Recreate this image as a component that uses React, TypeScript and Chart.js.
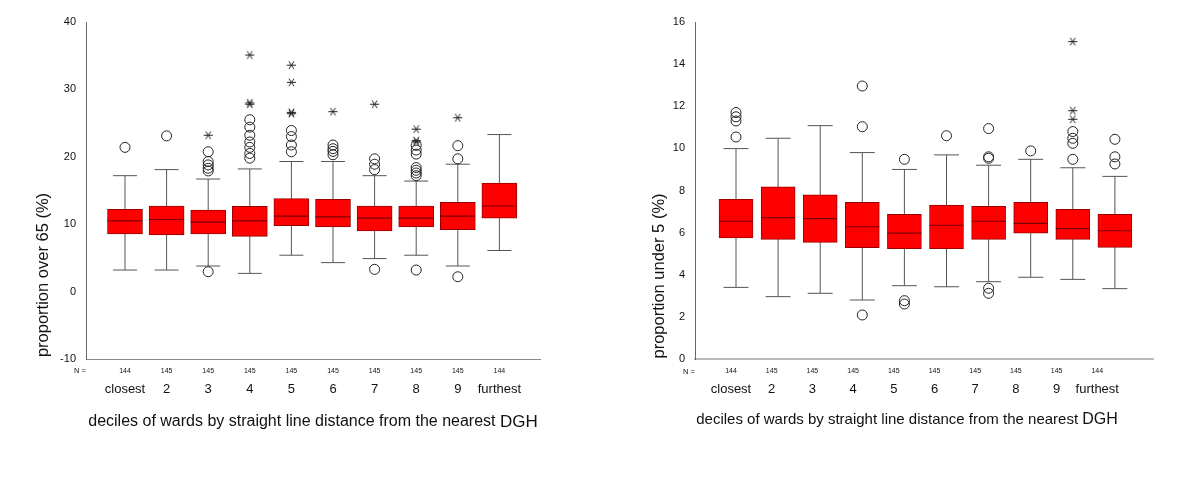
import React, { useEffect, useRef } from 'react';
import { Chart, registerables } from 'chart.js';

Chart.register(...registerables);

// ---------- data ----------
const categories = ['closest', '2', '3', '4', '5', '6', '7', '8', '9', 'furthest'];
const nCounts = [144, 145, 145, 145, 145, 145, 145, 145, 145, 144];

// proportion over 65 (%)
const over65Low = [3.2, 3.2, 3.8, 2.7, 5.4, 4.3, 4.9, 5.4, 3.8, 6.1];
const over65Q1 = [8.55, 8.4, 8.55, 8.2, 9.8, 9.6, 9.0, 9.6, 9.2, 10.9];
const over65Median = [10.5, 10.7, 10.3, 10.5, 11.2, 11.1, 10.9, 10.9, 11.2, 12.7];
const over65Q3 = [12.2, 12.7, 12.1, 12.65, 13.8, 13.7, 12.7, 12.7, 13.25, 16.1];
const over65High = [17.2, 18.1, 16.7, 18.2, 19.3, 19.3, 17.2, 16.4, 18.9, 23.3];
// [decile (1-10), value]
const over65Outliers: [number, number][] = [
  [1, 21.4],
  [2, 23.1],
  [3, 20.75], [3, 19.3], [3, 18.8], [3, 18.3], [3, 17.9], [3, 2.95],
  [4, 25.5], [4, 24.4], [4, 23.2], [4, 22.2], [4, 21.4], [4, 20.5], [4, 19.8],
  [5, 23.9], [5, 23.0], [5, 21.75], [5, 20.75],
  [6, 21.75], [6, 21.2], [6, 20.8], [6, 20.3],
  [7, 19.7], [7, 18.9], [7, 18.1], [7, 3.3],
  [8, 21.7], [8, 21.0], [8, 20.4], [8, 18.4], [8, 18.0], [8, 17.6], [8, 17.2], [8, 3.2],
  [9, 21.65], [9, 19.7], [9, 2.2],
];
const over65Extremes: [number, number][] = [
  [3, 23.2],
  [4, 35.1], [4, 28.0], [4, 27.8],
  [5, 33.6], [5, 31.05], [5, 26.6], [5, 26.4],
  [6, 26.7],
  [7, 27.8],
  [8, 24.1], [8, 22.4], [8, 22.2],
  [9, 25.8],
];
const over65Ticks = [-10, 0, 10, 20, 30, 40];

// proportion under 5 (%)
const under5Low = [3.4, 2.96, 3.12, 2.8, 3.48, 3.43, 3.67, 3.88, 3.78, 3.34];
const under5Q1 = [5.75, 5.68, 5.54, 5.29, 5.24, 5.24, 5.68, 5.98, 5.68, 5.3];
const under5Median = [6.54, 6.71, 6.66, 6.28, 5.98, 6.35, 6.54, 6.44, 6.19, 6.09];
const under5Q3 = [7.58, 8.18, 7.8, 7.44, 6.87, 7.31, 7.25, 7.44, 7.11, 6.87];
const under5High = [9.99, 10.48, 11.08, 9.8, 9.0, 9.69, 9.2, 9.48, 9.08, 8.67];
const under5Outliers: [number, number][] = [
  [1, 10.54], [1, 11.3], [1, 11.5], [1, 11.7],
  [4, 11.03], [4, 12.96], [4, 2.09],
  [5, 9.48], [5, 2.77], [5, 2.61],
  [6, 10.6],
  [7, 10.94], [7, 9.6], [7, 9.53], [7, 3.36], [7, 3.12],
  [8, 9.88],
  [9, 9.48], [9, 10.24], [9, 10.48], [9, 10.8],
  [10, 9.26], [10, 9.6], [10, 10.43],
];
const under5Extremes: [number, number][] = [
  [9, 15.07], [9, 11.79], [9, 11.38],
];
const under5Ticks = [0, 2, 4, 6, 8, 10, 12, 14, 16];

const xTitleMain = 'deciles of wards by straight line distance from the nearest ';
const xTitleEnd = 'DGH';
const nLabel = 'N =';

const FONT = '"Liberation Sans", Arial, Helvetica, sans-serif';

function makeStar(): HTMLCanvasElement {
  const c = document.createElement('canvas');
  c.width = 11;
  c.height = 11;
  const ctx = c.getContext('2d')!;
  ctx.strokeStyle = '#222';
  ctx.lineWidth = 1;
  const cx = 5.5, cy = 5.5, r = 4.6;
  for (const a of [0, Math.PI / 3.2, Math.PI - Math.PI / 3.2]) {
    ctx.beginPath();
    ctx.moveTo(cx - r * Math.cos(a), cy - r * Math.sin(a));
    ctx.lineTo(cx + r * Math.cos(a), cy + r * Math.sin(a));
    ctx.stroke();
  }
  return c;
}

interface Spec {
  width: number;
  low: number[]; q1: number[]; med: number[]; q3: number[]; high: number[];
  outliers: [number, number][];
  extremes: [number, number][];
  yTicks: number[];
  xMin: number; xMax: number;
  labelMin: number; labelMax: number;
  boxWidth: number; capWidth: number;
  yAxisWidth: number; padRight: number;
  yTitle: string; yTitleX: number; yTitleY: number; yTitleSize: number;
  xTitleX: number; xTitleY: number; xTitleSize: number; xTitleBig: number;
  nX: number; nY: number;
  bottomColor: string; bottomWidth: number;
}

function BoxChart({ spec }: { spec: Spec }) {
  const ref = useRef<HTMLCanvasElement | null>(null);
  useEffect(() => {
    if (!ref.current) return;
    const s = spec;
    const pos = categories.map((_, i) => i + 1);
    const star = makeStar();
    const whiskers: any[] = [];
    const caps: any[] = [];
    pos.forEach((x, i) => {
      whiskers.push({ x, y: s.low[i] }, { x, y: s.high[i] }, { x, y: null });
      caps.push({ x, y: s.low[i] }, { x, y: s.high[i] });
    });
    const textPlugin = {
      id: 'texts',
      afterDraw(chart: any) {
        const ctx = chart.ctx as CanvasRenderingContext2D;
        ctx.save();
        ctx.fillStyle = '#111';
        ctx.textBaseline = 'middle';
        // y title
        ctx.save();
        ctx.translate(s.yTitleX, s.yTitleY);
        ctx.rotate(-Math.PI / 2);
        ctx.textAlign = 'center';
        ctx.font = `${s.yTitleSize}px ${FONT}`;
        ctx.fillText(s.yTitle, 0, 0);
        ctx.restore();
        // x title
        ctx.font = `${s.xTitleSize}px ${FONT}`;
        const w1 = ctx.measureText(xTitleMain).width;
        ctx.font = `${s.xTitleBig}px ${FONT}`;
        const w2 = ctx.measureText(xTitleEnd).width;
        const start = s.xTitleX - (w1 + w2) / 2;
        ctx.textAlign = 'left';
        ctx.font = `${s.xTitleSize}px ${FONT}`;
        ctx.fillText(xTitleMain, start, s.xTitleY);
        ctx.font = `${s.xTitleBig}px ${FONT}`;
        ctx.fillText(xTitleEnd, start + w1, s.xTitleY);
        // N =
        ctx.textAlign = 'center';
        ctx.font = `7.5px ${FONT}`;
        ctx.fillText(nLabel, s.nX, s.nY);
        ctx.restore();
      },
    };
    const chart = new Chart(ref.current, {
      type: 'bar',
      data: {
        datasets: [
          {
            type: 'line',
            data: whiskers,
            borderColor: '#555',
            borderWidth: 1,
            pointRadius: 0,
            spanGaps: false,
            order: 5,
            xAxisID: 'x', yAxisID: 'y',
          } as any,
          {
            type: 'scatter',
            data: caps,
            pointStyle: 'line',
            pointRadius: s.capWidth / 2,
            pointBorderColor: '#555',
            borderColor: '#555',
            pointBorderWidth: 1,
            order: 4,
            xAxisID: 'x', yAxisID: 'y',
          } as any,
          {
            type: 'bar',
            data: pos.map((x, i) => ({ x, y: [s.q1[i], s.q3[i]] })),
            backgroundColor: '#ff0000',
            borderColor: '#9a0000',
            borderWidth: 1,
            borderSkipped: false,
            barThickness: s.boxWidth,
            grouped: false,
            order: 3,
            xAxisID: 'x', yAxisID: 'y',
          } as any,
          {
            type: 'scatter',
            data: pos.map((x, i) => ({ x, y: s.med[i] })),
            pointStyle: 'line',
            pointRadius: s.boxWidth / 2,
            pointBorderColor: '#7a0000',
            borderColor: '#7a0000',
            pointBorderWidth: 1.2,
            order: 2,
            xAxisID: 'x', yAxisID: 'y',
          } as any,
          {
            type: 'scatter',
            data: s.outliers.map(([x, y]) => ({ x, y })),
            pointStyle: 'circle',
            pointRadius: 5,
            pointBorderColor: '#222',
            pointBackgroundColor: 'rgba(0,0,0,0)',
            pointBorderWidth: 1,
            order: 1,
            xAxisID: 'x', yAxisID: 'y',
          } as any,
          {
            type: 'scatter',
            data: s.extremes.map(([x, y]) => ({ x, y })),
            pointStyle: star,
            pointRadius: 5,
            order: 0,
            xAxisID: 'x', yAxisID: 'y',
          } as any,
        ],
      },
      options: {
        responsive: false,
        animation: false,
        events: [],
        layout: { padding: { left: 0, top: 22, right: s.padRight, bottom: 70 } },
        plugins: { legend: { display: false }, tooltip: { enabled: false }, title: { display: false } },
        scales: {
          x: {
            type: 'linear',
            axis: 'x',
            position: 'bottom',
            min: s.xMin,
            max: s.xMax,
            offset: false,
            weight: 0,
            grid: { display: false, drawTicks: false },
            border: { display: true, color: s.bottomColor, width: s.bottomWidth },
            ticks: { display: false },
            afterFit: (sc: any) => { sc.height = 0; },
          },
          xN: {
            type: 'linear',
            axis: 'x',
            position: 'bottom',
            min: s.labelMin,
            max: s.labelMax,
            offset: false,
            weight: 1,
            grid: { display: false, drawTicks: false },
            border: { display: false },
            ticks: {
              autoSkip: false,
              maxRotation: 0,
              padding: 8,
              color: '#111',
              font: { size: 7, family: FONT },
              callback: (v: any) => String(nCounts[Math.round(Number(v)) - 1] ?? ''),
            },
            afterBuildTicks: (sc: any) => { sc.ticks = pos.map((v) => ({ value: v })); },
            afterFit: (sc: any) => { sc.height = 20; },
          },
          xCat: {
            type: 'linear',
            axis: 'x',
            position: 'bottom',
            min: s.labelMin,
            max: s.labelMax,
            offset: false,
            weight: 2,
            grid: { display: false, drawTicks: false },
            border: { display: false },
            ticks: {
              autoSkip: false,
              maxRotation: 0,
              padding: 3,
              color: '#111',
              font: { size: 13, family: FONT },
              callback: (v: any) => categories[Math.round(Number(v)) - 1] ?? '',
            },
            afterBuildTicks: (sc: any) => { sc.ticks = pos.map((v) => ({ value: v })); },
            afterFit: (sc: any) => { sc.height = 30; },
          },
          y: {
            type: 'linear',
            position: 'left',
            min: s.yTicks[0],
            max: s.yTicks[s.yTicks.length - 1],
            grid: { display: false, drawTicks: false },
            border: { display: true, color: '#666', width: 1 },
            ticks: {
              padding: 10,
              color: '#111',
              font: { size: 11, family: FONT },
            },
            afterBuildTicks: (sc: any) => { sc.ticks = s.yTicks.map((v) => ({ value: v })); },
            afterFit: (sc: any) => { sc.width = s.yAxisWidth; },
          },
        },
      } as any,
      plugins: [textPlugin],
    });
    return () => chart.destroy();
  }, [spec]);
  return <canvas ref={ref} width={spec.width} height={479} style={{ display: 'block' }} />;
}

const leftSpec: Spec = {
  width: 600,
  low: over65Low, q1: over65Q1, med: over65Median, q3: over65Q3, high: over65High,
  outliers: over65Outliers, extremes: over65Extremes,
  yTicks: over65Ticks,
  xMin: 0.0625, xMax: 10.976,
  labelMin: 0.0625, labelMax: 10.976,
  boxWidth: 35, capWidth: 24,
  yAxisWidth: 86, padRight: 60,
  yTitle: 'proportion over 65 (%)', yTitleX: 43, yTitleY: 275, yTitleSize: 16.5,
  xTitleX: 313, xTitleY: 422, xTitleSize: 16, xTitleBig: 17,
  nX: 80, nY: 371,
  bottomColor: '#888', bottomWidth: 1,
};

const rightSpec: Spec = {
  width: 598,
  low: under5Low, q1: under5Q1, med: under5Median, q3: under5Q3, high: under5High,
  outliers: under5Outliers, extremes: under5Extremes,
  yTicks: under5Ticks,
  xMin: 0.026, xMax: 10.905,
  labelMin: 0.1155, labelMax: 11.369,
  boxWidth: 34, capWidth: 25,
  yAxisWidth: 95, padRight: 45,
  yTitle: 'proportion under 5 (%)', yTitleX: 59, yTitleY: 276, yTitleSize: 16.5,
  xTitleX: 907 - 600, xTitleY: 420, xTitleSize: 15, xTitleBig: 16,
  nX: 89, nY: 372,
  bottomColor: '#bbb', bottomWidth: 2,
};

export default function App() {
  return (
    <div style={{ position: 'absolute', left: 0, top: 0, width: 1198, height: 479, background: '#fff' }}>
      <div style={{ position: 'absolute', left: 0, top: 0, width: 600, height: 479 }}>
        <BoxChart spec={leftSpec} />
      </div>
      <div style={{ position: 'absolute', left: 600, top: 0, width: 598, height: 479 }}>
        <BoxChart spec={rightSpec} />
      </div>
    </div>
  );
}
